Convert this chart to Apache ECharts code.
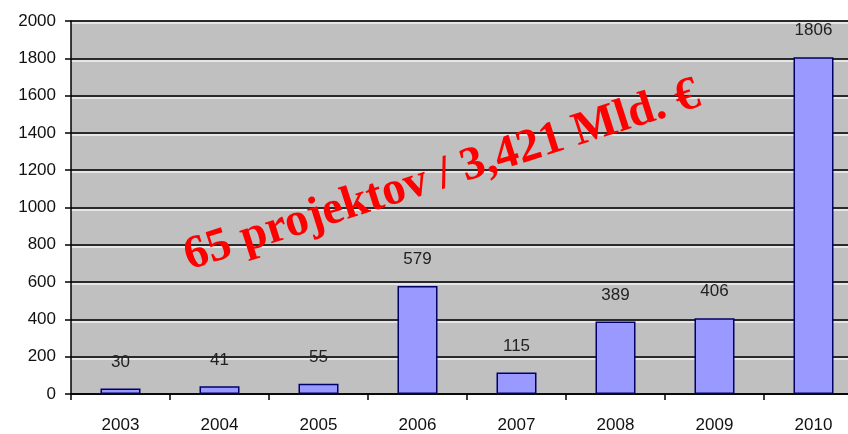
<!DOCTYPE html>
<html><head><meta charset="utf-8">
<script src="https://cdn.jsdelivr.net/npm/echarts@6/dist/echarts.min.js"></script>
<style>html,body{margin:0;padding:0;background:#fff}#c{width:848px;height:434px}</style>
</head><body><div id="c"></div>
<script>
const categories = ['2003','2004','2005','2006','2007','2008','2009','2010'];
const values = [30, 41, 55, 579, 115, 389, 406, 1806];
const yTicks = {min: 0, max: 2000, interval: 200};
const overlayText = '65 projektov / 3,421 Mld. €';

const chart = echarts.init(document.getElementById('c'), null, {renderer: 'canvas'});
chart.setOption({
  animation: false,
  grid: {left: 71, top: 21, right: -15, bottom: 40, outerBoundsMode: 'none', containLabel: false,
         backgroundColor: '#c0c0c0', show: true, borderWidth: 0},
  xAxis: {
    type: 'category', data: categories,
    axisLine: {lineStyle: {color: '#000', width: 1.5}},
    axisTick: {show: true, length: 6, alignWithLabel: false, lineStyle: {color: '#000', width: 1.5}},
    axisLabel: {color: '#111', fontSize: 17, fontFamily: 'Liberation Sans, Arial', margin: 23}
  },
  yAxis: {
    type: 'value', min: yTicks.min, max: yTicks.max, interval: yTicks.interval,
    axisLine: {show: true, lineStyle: {color: '#000', width: 1.5}},
    axisTick: {show: true, length: 6, lineStyle: {color: '#000', width: 1.5}},
    axisLabel: {color: '#111', fontSize: 17, fontFamily: 'Liberation Sans, Arial', margin: 15, formatter: v => String(v)},
    splitLine: {lineStyle: {color: '#2a2a2a', width: 2, shadowColor: 'rgba(255,255,255,0.6)', shadowOffsetY: 2}}
  },
  series: [{
    type: 'bar', data: values, barWidth: 40,
    itemStyle: {color: '#9999ff', borderColor: '#000066', borderWidth: 1.5},
    label: {show: true, position: 'top', distance: 18, color: '#222', fontSize: 17, fontFamily: 'Liberation Sans, Arial'}
  }],
  graphic: [{
    type: 'text', x: 442, y: 176, rotation: 0.31,
    style: {
      text: overlayText, fill: '#ff0000', font: 'bold 47px "Liberation Serif", "Times New Roman", serif',
      textAlign: 'center', textVerticalAlign: 'middle',
      shadowColor: 'rgba(0,0,0,0.45)', shadowOffsetX: 3, shadowOffsetY: 3, shadowBlur: 3
    },
    z: 100
  }]
});
</script></body></html>
